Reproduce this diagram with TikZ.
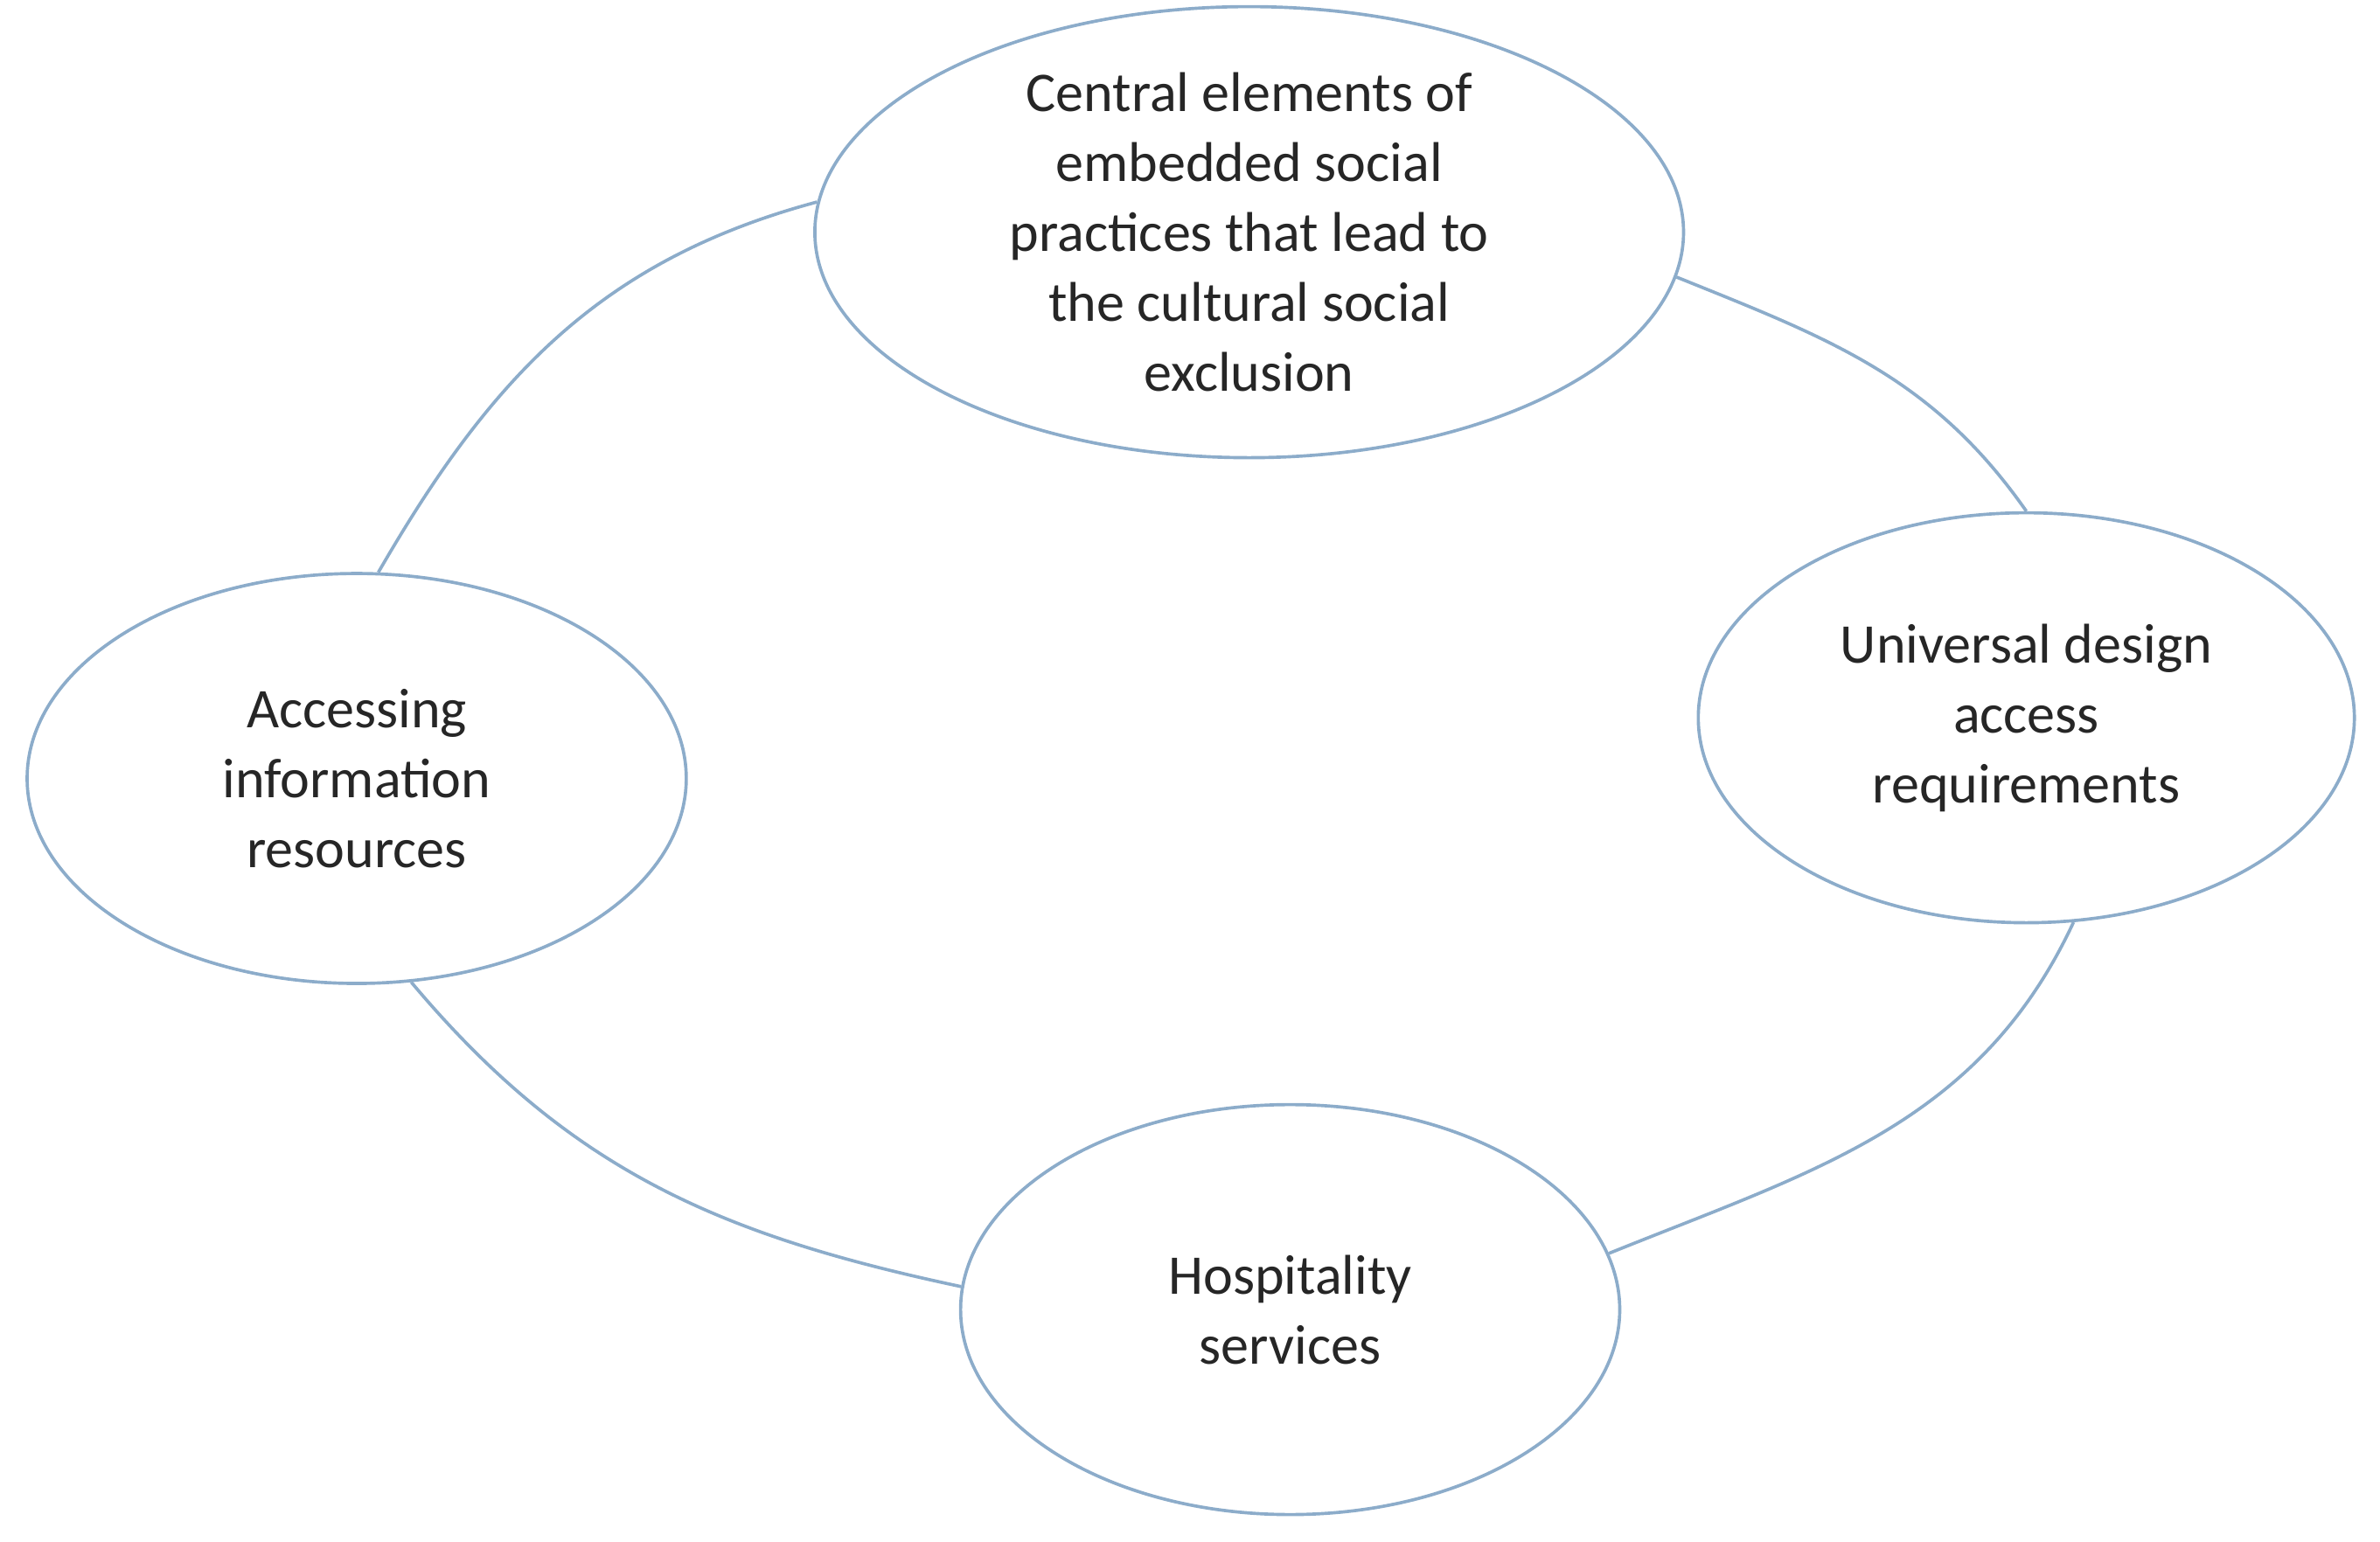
\documentclass[tikz,border=0pt]{standalone}
\usepackage{fontspec}
\setmainfont{Carlito}
\usetikzlibrary{shapes.geometric}
\begin{document}
\begin{tikzpicture}[x=0.01cm,y=0.01cm,
  ell/.style={ellipse,draw=linkblue,line width=0.6pt,inner sep=0pt,align=center,
    font=\fontsize{10.5}{13.1}\selectfont,text=black!85},
  link/.style={draw=linkblue,line width=0.6pt}]
\definecolor{linkblue}{RGB}{140,172,202}
\useasboundingbox (0,0) rectangle (1568,-1016);
\node[ell,minimum width=5.72cm,minimum height=2.76cm] (top) at (823,-153)
  {Central elements of\\embedded social\\practices that lead to\\the cultural social\\exclusion};
\node[ell,minimum width=4.32cm,minimum height=2.70cm] (right) at (1335,-473)
  {Universal design\\access\\requirements};
\node[ell,minimum width=4.34cm,minimum height=2.70cm] (left) at (235,-513)
  {Accessing\\information\\resources};
\node[ell,minimum width=4.34cm,minimum height=2.70cm] (bottom) at (850,-863)
  {Hospitality\\services};
\draw[link] (top.176) to[out=195,in=60] (left.84);
\draw[link] (top.354) to[out=-22,in=125] (right.90);
\draw[link] (right.-77) to[out=-115,in=22] (bottom.10);
\draw[link] (left.-75) to[out=-50,in=168] (bottom.176);
\end{tikzpicture}
\end{document}
